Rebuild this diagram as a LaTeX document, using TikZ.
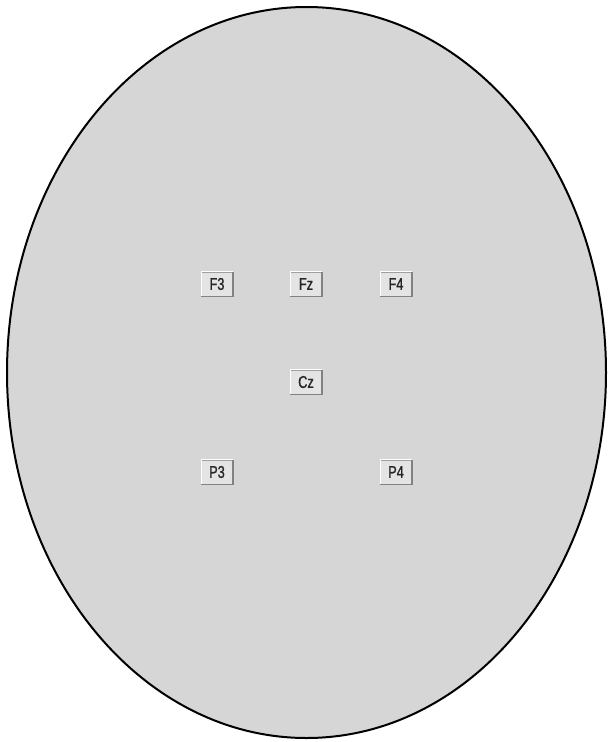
\documentclass[tikz,border=0pt]{standalone}
\usepackage{fontspec}
\newfontfamily\btnfont[FakeStretch=0.75,FakeBold=1.2]{Liberation Sans}
\definecolor{headgray}{RGB}{214,214,214}
\definecolor{btngray}{RGB}{228,228,228}
\definecolor{btnshade}{RGB}{130,130,130}

\begin{document}
\begin{tikzpicture}[x=1pt,y=-1pt,
  elec/.style={fill=btngray,draw=btngray!70!black,line width=0.6pt,
    minimum width=31pt,minimum height=24pt,inner sep=0pt,text=black!85,
    font=\btnfont\fontsize{17}{17}\selectfont}]
\useasboundingbox (0,0) rectangle (609,742);

% head outline
\draw[black,line width=2pt,fill=headgray] (306.5,372.5) ellipse [x radius=299.5pt,y radius=365.5pt];

\node[elec] (F3) at (217,284) {F3};
\node[elec] (Fz) at (306,284) {Fz};
\node[elec] (F4) at (396,284) {F4};
\node[elec] (Cz) at (306,382) {Cz};
\node[elec] (P3) at (217,472) {P3};
\node[elec] (P4) at (396,472) {P4};

% bevel of the buttons
\foreach \e in {F3,Fz,F4,Cz,P3,P4}{
  \draw[white,line width=1pt] (\e.south west) |- (\e.north east);
  \draw[btnshade,line width=1.5pt] (\e.south west) -| (\e.north east);
}
\end{tikzpicture}
\end{document}
